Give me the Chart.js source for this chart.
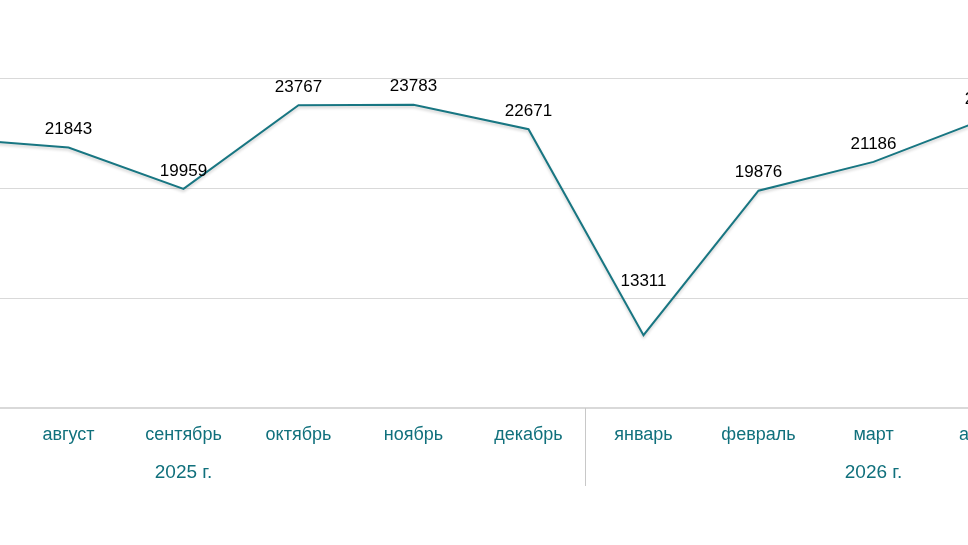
<!DOCTYPE html>
<html>
<head>
<meta charset="utf-8">
<script src="https://cdn.jsdelivr.net/npm/chart.js@4"></script>
<style>
  html, body { margin: 0; padding: 0; background: #fff; overflow: hidden; width: 968px; height: 545px; }
  #wrap { position: absolute; left: -219px; top: 0; width: 1380px; height: 545px; }
</style>
</head>
<body>
<div id="wrap"><canvas id="myChart"></canvas></div>
<script>
// months Jun 2025 .. May 2026, first and last are outside the visible crop
const months = ['июнь', 'июль', 'август', 'сентябрь', 'октябрь', 'ноябрь', 'декабрь',
  'январь', 'февраль', 'март', 'апрель', 'май'];
const values = [null, 22250, 21843, 19959, 23767, 23783, 22671, 13311, 19876, 21186, 23200, null];
const years = ['2025 г.', '2026 г.'];
const yearSpans = [[0, 6], [7, 11]];

const teal = '#187682';
const textTeal = '#10707c';
const gridGray = '#d9d9d9';

const labelsPlugin = {
  id: 'labels',
  beforeDatasetsDraw(chart) {
    const c = chart.ctx;
    c.save();
    c.shadowColor = 'rgba(0,0,0,0.2)';
    c.shadowBlur = 3;
    c.shadowOffsetY = 2;
  },
  afterDatasetsDraw(chart) {
    const c = chart.ctx;
    c.restore();
    const meta = chart.getDatasetMeta(0);
    const x = chart.scales.x;
    const bottom = chart.chartArea.bottom;

    c.save();
    // value labels; the deep dip gets pushed up so it sits clear of the line
    c.font = '17px "Liberation Sans", Arial, sans-serif';
    c.fillStyle = '#000';
    c.textAlign = 'center';
    c.textBaseline = 'middle';
    const lowest = Math.min(...values.filter(v => v != null));
    meta.data.forEach((p, i) => {
      if (values[i] == null) return;
      const off = values[i] === lowest ? 54 : 18;
      c.fillText(values[i], p.x, p.y - off);
    });

    // month labels
    c.font = '18px "Liberation Sans", Arial, sans-serif';
    c.fillStyle = textTeal;
    months.forEach((m, i) => {
      c.fillText(m, x.getPixelForValue(i), bottom + 27);
    });

    // year labels and separators
    c.font = '19px "Liberation Sans", Arial, sans-serif';
    c.strokeStyle = '#c8c8c8';
    c.lineWidth = 1;
    yearSpans.forEach((s, k) => {
      const a = x.getPixelForValue(s[0]);
      const b = x.getPixelForValue(s[1]);
      c.fillText(years[k], (a + b) / 2, bottom + 65);
    });
    const half = (x.getPixelForValue(1) - x.getPixelForValue(0)) / 2;
    const edges = [x.getPixelForValue(0) - half, x.getPixelForValue(6) + half, x.getPixelForValue(11) + half];
    edges.forEach(e => {
      c.beginPath();
      c.moveTo(Math.round(e) - 0.5, bottom);
      c.lineTo(Math.round(e) - 0.5, bottom + 78);
      c.stroke();
    });
    c.restore();
  }
};

const ctx = document.getElementById('myChart');
new Chart(ctx, {
  type: 'line',
  data: {
    labels: months,
    datasets: [{
      data: values,
      borderColor: teal,
      borderWidth: 2,
      pointRadius: 0,
      tension: 0,
      spanGaps: false
    }]
  },
  options: {
    responsive: true,
    maintainAspectRatio: false,
    animation: false,
    layout: { padding: { top: 78, bottom: 137, left: 0, right: 0 } },
    plugins: { legend: { display: false }, tooltip: { enabled: false } },
    scales: {
      x: {
        offset: true,
        grid: { display: false, drawTicks: false },
        border: { display: true, color: gridGray, width: 2 },
        ticks: { display: false }
      },
      y: {
        min: 10000,
        max: 25000,
        ticks: { display: false, stepSize: 5000 },
        grid: { color: gridGray, drawTicks: false },
        border: { display: false }
      }
    }
  },
  plugins: [labelsPlugin]
});
</script>
</body>
</html>
